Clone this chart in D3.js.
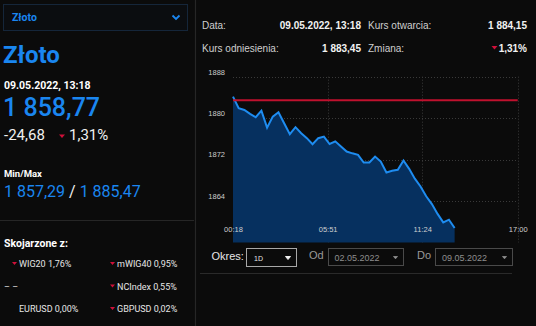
<!DOCTYPE html>
<html>
<head>
<meta charset="utf-8">
<script src="https://cdn.jsdelivr.net/npm/d3@7/dist/d3.min.js"></script>
<style>
  html, body { margin: 0; padding: 0; background: #0b0b0b; }
  svg { display: block; }
</style>
</head>
<body>
<svg id="chart" width="536" height="326"></svg>
<script>
// Intraday quotes, sampled every 20 minutes
const times = ["00:18","00:38","00:58","01:18","01:38","01:58","02:18","02:38","02:58","03:18",
               "03:38","03:58","04:18","04:38","04:58","05:18","05:38","05:58","06:18","06:38",
               "06:58","07:18","07:38","07:58","08:18","08:38","08:58","09:18","09:38","09:58",
               "10:18","10:38","10:58","11:18","11:38","11:58","12:18","12:38","12:58","13:18"];
const prices = [1884.15, 1881.91, 1881.58, 1880.81, 1880.17, 1881.45, 1878.17, 1880.29, 1881.14, 1879.02,
                1876.90, 1878.25, 1877.09, 1876.13, 1874.97, 1876.13, 1876.43, 1875.00, 1875.51, 1874.51,
                1873.54, 1873.20, 1872.91, 1871.42, 1871.45, 1872.58, 1871.61, 1869.49, 1869.82, 1870.01,
                1871.81, 1870.20, 1868.30, 1866.80, 1864.90, 1863.40, 1861.50, 1859.86, 1860.38, 1858.77];
const referencePrice = 1883.45;
const yTicks = [1864, 1872, 1880, 1888];
const yDomain = [1856, 1888];
const xTicks = ["00:18", "05:51", "11:24", "17:00"];
const xDomain = ["00:18", "17:00"];

// Related instruments: [name, change, direction]
const relatedNames = ["WIG20", "mWIG40", "", "NCIndex", "EURUSD", "GBPUSD"];
const relatedChanges = ["1,76%", "0,95%", "", "0,55%", "0,00%", "0,02%"];
const relatedDown = [true, true, false, true, false, true];

const toMin = s => { const [h, m] = s.split(":").map(Number); return h * 60 + m; };

const svg = d3.select("#chart");
const LEFT_FONT = "Roboto, 'Noto Sans', sans-serif";
const RIGHT_FONT = "'Liberation Sans', Arial, sans-serif";
const BLUE = "#1a86f0";
const RED = "#d0103a";

// ---- panel frames ----
svg.append("line").attr("x1", 195.5).attr("x2", 195.5).attr("y1", 0).attr("y2", 326)
  .attr("stroke", "#262626").attr("stroke-width", 1.2);
svg.append("line").attr("x1", 0).attr("x2", 194).attr("y1", 220.5).attr("y2", 220.5)
  .attr("stroke", "#262626").attr("stroke-width", 1.2);
svg.append("line").attr("x1", 200).attr("x2", 512).attr("y1", 273.5).attr("y2", 273.5)
  .attr("stroke", "#2a2a2a").attr("stroke-width", 1);

// ---- left panel ----
const left = svg.append("g").attr("font-family", LEFT_FONT);

left.append("rect").attr("x", 3.5).attr("y", 4.5).attr("width", 184).attr("height", 26)
  .attr("fill", "#0b0d10").attr("stroke", "#15263a").attr("stroke-width", 1);
left.append("text").attr("x", 12).attr("y", 21).attr("fill", BLUE)
  .attr("font-size", 10.5).attr("font-weight", 700).text("Złoto");
left.append("path").attr("d", "M172.5,15.5 L176,19 L179.5,15.5").attr("fill", "none")
  .attr("stroke", BLUE).attr("stroke-width", 1.8);

left.append("text").attr("x", 3).attr("y", 63).attr("fill", BLUE)
  .attr("font-size", 24).attr("font-weight", 700).text("Złoto");
left.append("text").attr("x", 4).attr("y", 89).attr("fill", "#ffffff")
  .attr("font-size", 10.5).attr("font-weight", 700).text("09.05.2022, 13:18");
left.append("text").attr("x", 3).attr("y", 116).attr("fill", BLUE)
  .attr("font-size", 25).attr("font-weight", 500).text("1 858,77");
left.append("text").attr("x", 4).attr("y", 140).attr("fill", "#f0f0f0")
  .attr("font-size", 15).text("-24,68");
left.append("path").attr("d", "M59,134.5 L65,134.5 L62,138 Z").attr("fill", RED);
left.append("text").attr("x", 69).attr("y", 140).attr("fill", "#f0f0f0")
  .attr("font-size", 15).text("1,31%");

left.append("text").attr("x", 4).attr("y", 177).attr("fill", "#ffffff")
  .attr("font-size", 9.5).attr("font-weight", 700).text("Min/Max");
const mm = left.append("text").attr("x", 4).attr("y", 197).attr("font-size", 16);
mm.append("tspan").attr("fill", BLUE).text("1 857,29");
mm.append("tspan").attr("fill", "#f0f0f0").text(" / ");
mm.append("tspan").attr("fill", BLUE).text("1 885,47");

left.append("text").attr("x", 4).attr("y", 246.5).attr("fill", "#ffffff")
  .attr("font-size", 10.5).attr("font-weight", 700).text("Skojarzone z:");

relatedNames.forEach((name, i) => {
  const col = i % 2, row = Math.floor(i / 2);
  const tx = col === 0 ? 19 : 117;
  const ty = 267 + row * 22.5;
  if (name === "") {
    left.append("text").attr("x", 4).attr("y", ty).attr("fill", "#dddddd")
      .attr("font-size", 9).text("– –");
    return;
  }
  if (relatedDown[i]) {
    left.append("path").attr("d", `M${tx - 7},${ty - 5} L${tx - 2},${ty - 5} L${tx - 4.5},${ty - 2} Z`)
      .attr("fill", RED);
  }
  left.append("text").attr("x", tx).attr("y", ty).attr("fill", "#e6e6e6")
    .attr("font-size", 9).text(name + " " + relatedChanges[i]);
});

// ---- right panel: summary table ----
const info = svg.append("g").attr("font-family", RIGHT_FONT).attr("font-size", 10);
info.append("text").attr("x", 202).attr("y", 29).attr("fill", "#cfcfcf").text("Data:");
info.append("text").attr("x", 361).attr("y", 29).attr("fill", "#f2f2f2").attr("font-weight", 700)
  .attr("text-anchor", "end").text("09.05.2022, 13:18");
info.append("text").attr("x", 368).attr("y", 29).attr("fill", "#cfcfcf").text("Kurs otwarcia:");
info.append("text").attr("x", 527).attr("y", 29).attr("fill", "#f2f2f2").attr("font-weight", 700)
  .attr("text-anchor", "end").text("1 884,15");
info.append("text").attr("x", 202).attr("y", 52).attr("fill", "#cfcfcf").text("Kurs odniesienia:");
info.append("text").attr("x", 361).attr("y", 52).attr("fill", "#f2f2f2").attr("font-weight", 700)
  .attr("text-anchor", "end").text("1 883,45");
info.append("text").attr("x", 368).attr("y", 52).attr("fill", "#cfcfcf").text("Zmiana:");
info.append("text").attr("x", 527).attr("y", 52).attr("fill", "#f2f2f2").attr("font-weight", 700)
  .attr("text-anchor", "end").text("1,31%");
info.append("path").attr("d", "M491.5,46 L497.5,46 L494.5,49.5 Z").attr("fill", RED);

// ---- price chart ----
const plot = { x0: 233, x1: 517.7, y0: 76.7, y1: 242.4 };
const x = d3.scaleLinear().domain(xDomain.map(toMin)).range([plot.x0, plot.x1]);
const y = d3.scaleLinear().domain(yDomain).range([plot.y1, plot.y0]);

const series = times.map((t, i) => ({ t: toMin(t), v: prices[i] }));

// dotted grid
const grid = svg.append("g").attr("stroke", "#3a3a3a").attr("stroke-width", 1)
  .attr("stroke-dasharray", "1,2");
yTicks.forEach(v => {
  grid.append("line").attr("x1", plot.x0).attr("x2", plot.x1)
    .attr("y1", Math.round(y(v)) + 0.5).attr("y2", Math.round(y(v)) + 0.5);
});
xTicks.slice(1).forEach(t => {
  grid.append("line").attr("x1", Math.round(x(toMin(t))) + 0.5).attr("x2", Math.round(x(toMin(t))) + 0.5)
    .attr("y1", plot.y0).attr("y2", plot.y1);
});

// area + line
const area = d3.area().x(d => x(d.t)).y0(y(yDomain[0])).y1(d => y(d.v));
const line = d3.line().x(d => x(d.t)).y(d => y(d.v));
svg.append("path").datum(series).attr("d", area).attr("fill", "#06305f");
svg.append("path").datum(series).attr("d", line).attr("fill", "none")
  .attr("stroke", "#1e8cf0").attr("stroke-width", 2).attr("stroke-linejoin", "miter");

// reference price
svg.append("line").attr("x1", plot.x0).attr("x2", plot.x1)
  .attr("y1", y(referencePrice)).attr("y2", y(referencePrice))
  .attr("stroke", "#c0112e").attr("stroke-width", 2);

// axes
const yAxis = d3.axisLeft(y).tickValues(yTicks).tickSize(0).tickPadding(0).tickFormat(d3.format("d"));
const gy = svg.append("g").attr("transform", `translate(${226},0)`).call(yAxis);
gy.select(".domain").remove();
gy.selectAll("text").attr("font-family", RIGHT_FONT).attr("font-size", 7.5)
  .attr("fill", "#cccccc").attr("dy", "-0.35em").attr("dx", "-1");

const xAxis = d3.axisBottom(x).tickValues(xTicks.map(toMin)).tickSize(0).tickPadding(0)
  .tickFormat(m => xTicks.find(t => toMin(t) === m));
const gx = svg.append("g").attr("transform", `translate(0,${229})`).call(xAxis);
gx.select(".domain").remove();
gx.selectAll("text").attr("font-family", RIGHT_FONT).attr("font-size", 7.5)
  .attr("fill", "#cfcfcf").attr("dy", "0.35em");

// ---- period controls ----
const ctl = svg.append("g").attr("font-family", RIGHT_FONT);
ctl.append("text").attr("x", 211.5).attr("y", 260).attr("font-size", 11).attr("fill", "#e6e6e6").text("Okres:");
ctl.append("rect").attr("x", 246.5).attr("y", 248.5).attr("width", 50).attr("height", 18)
  .attr("fill", "#0b0b0b").attr("stroke", "#a8a8a8");
ctl.append("text").attr("x", 254).attr("y", 260.5).attr("font-size", 7).attr("fill", "#e6e6e6").text("1D");
ctl.append("path").attr("d", "M285.5,256.5 L290.5,256.5 L288,259.5 Z").attr("fill", "#f0f0f0")
  .attr("stroke", "#f0f0f0").attr("stroke-width", 1).attr("stroke-linejoin", "round");

ctl.append("text").attr("x", 309).attr("y", 259).attr("font-size", 11).attr("fill", "#9a9a9a").text("Od");
ctl.append("rect").attr("x", 328.5).attr("y", 248.5).attr("width", 75).attr("height", 17)
  .attr("fill", "#0b0b0b").attr("stroke", "#4a4a4a");
ctl.append("text").attr("x", 334.5).attr("y", 260.5).attr("font-size", 9).attr("fill", "#8e8e8e").text("02.05.2022");
ctl.append("path").attr("d", "M393.5,256.5 L397.5,256.5 L395.5,258.8 Z").attr("fill", "#8e8e8e")
  .attr("stroke", "#8e8e8e").attr("stroke-width", 0.8).attr("stroke-linejoin", "round");

ctl.append("text").attr("x", 417).attr("y", 259).attr("font-size", 11).attr("fill", "#9a9a9a").text("Do");
ctl.append("rect").attr("x", 435.5).attr("y", 248.5).attr("width", 77).attr("height", 17)
  .attr("fill", "#0b0b0b").attr("stroke", "#4a4a4a");
ctl.append("text").attr("x", 442).attr("y", 260.5).attr("font-size", 9).attr("fill", "#8e8e8e").text("09.05.2022");
ctl.append("path").attr("d", "M502.5,256.5 L506.5,256.5 L504.5,258.8 Z").attr("fill", "#8e8e8e")
  .attr("stroke", "#8e8e8e").attr("stroke-width", 0.8).attr("stroke-linejoin", "round");
</script>
</body>
</html>
